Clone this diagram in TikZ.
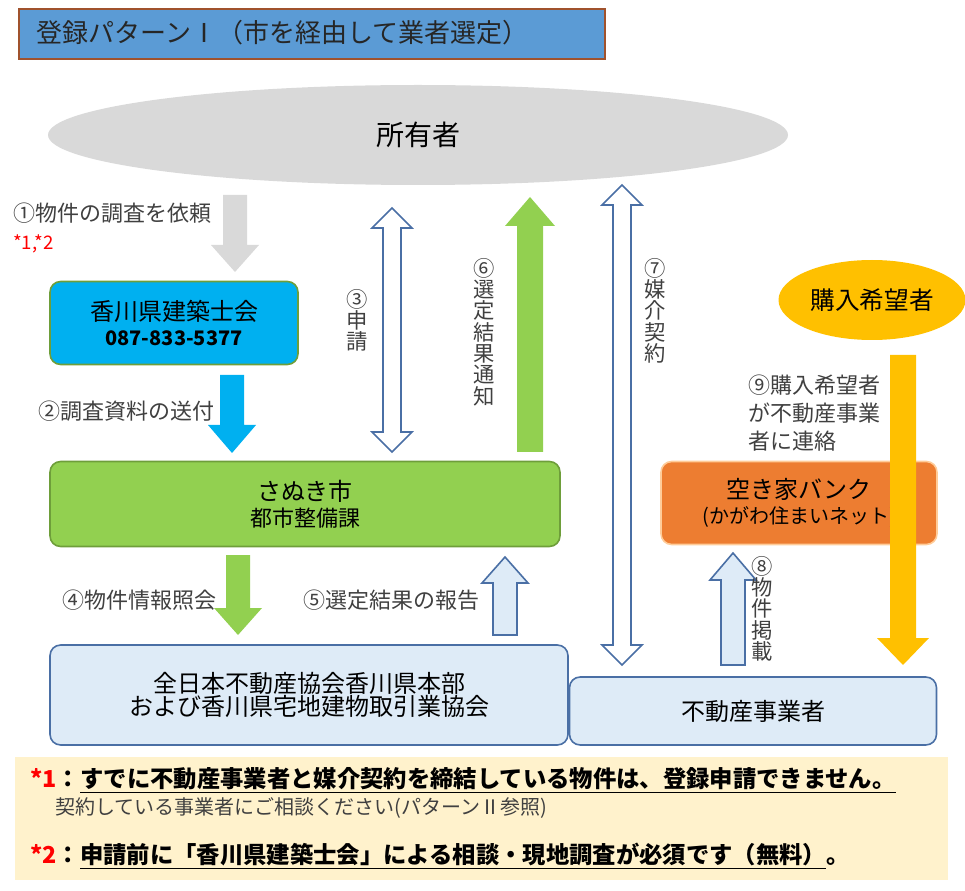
\documentclass[tikz,border=0pt]{standalone}
\usepackage{fontspec}
\setmainfont{Noto Sans CJK JP}
\usetikzlibrary{shapes.geometric}
\definecolor{tblue}{HTML}{5B9BD5}
\definecolor{tbrd}{HTML}{A0522D}
\definecolor{cyanb}{HTML}{00B0F0}
\definecolor{grn}{HTML}{92D050}
\definecolor{grnd}{HTML}{6E9E3A}
\definecolor{org}{HTML}{ED7D31}
\definecolor{gold}{HTML}{FFC000}
\definecolor{lblue}{HTML}{DEEBF7}
\definecolor{bbrd}{HTML}{4A6FA5}
\definecolor{note}{HTML}{FFF2CC}
\definecolor{gry}{HTML}{D9D9D9}
\newcommand{\barrow}[7]{\draw[#1] (#2-#6,#3) -- (#2+#6,#3) -- (#2+#6,#4) -- (#2+#7,#4) -- (#2,#5) -- (#2-#7,#4) -- (#2-#6,#4) -- cycle;}
\newcommand{\dbarrow}[8]{\draw[#1] (#2,#3) -- (#2+#8,#4) -- (#2+#7,#4) -- (#2+#7,#5) -- (#2+#8,#5) -- (#2,#6) -- (#2-#8,#5) -- (#2-#7,#5) -- (#2-#7,#4) -- (#2-#8,#4) -- cycle;}
\begin{document}
\begin{tikzpicture}[x=0.75pt,y=-0.75pt,
  box/.style={draw,rounded corners=8pt,line width=1.2pt,align=center,inner sep=0},
  lbl/.style={anchor=west,font=\fontsize{16.5}{19}\selectfont,text=black!75,inner sep=0},
  vlbl/.style={anchor=north,align=center,font=\fontsize{16}{16}\selectfont,text=black!75,inner sep=0}]
\useasboundingbox (0,0) rectangle (965,891);
% title
\node[draw=tbrd,fill=tblue,line width=1.5pt,minimum width=586pt*0.75,minimum height=50pt*0.75,anchor=north west,inner sep=0] (title) at (18,8) {};
\node[anchor=west,font=\fontsize{19.5}{21}\selectfont,text=black!85] (titlet) at (32,33) {登録パターンⅠ（市を経由して業者選定）};
% owner
\node[ellipse,fill=gry,minimum width=740*0.75pt,minimum height=100*0.75pt] (own) at (418,135) {\fontsize{21}{22}\selectfont 所有者};
\node[ellipse,fill=gold,minimum width=176*0.75pt,minimum height=80*0.75pt] (buyer) at (872,300) {\fontsize{18.5}{20}\selectfont 購入希望者};
% boxes
\node[box,draw=grnd,fill=cyanb,minimum width=248*0.75pt,minimum height=83*0.75pt] (arch) at (174,323) {\fontsize{18}{22}\selectfont 香川県建築士会\\[5pt]\fontsize{15}{18}\bfseries\selectfont 087-833-5377};
\node[box,draw=grnd,fill=grn,minimum width=510*0.75pt,minimum height=85*0.75pt] (city) at (305,504) {\fontsize{18}{22}\selectfont さぬき市\\[3pt]\fontsize{16.5}{19}\selectfont 都市整備課};
\node[box,draw=orange!40,fill=org,minimum width=276*0.75pt,minimum height=83*0.75pt] (bank) at (799,503) {\fontsize{18}{22}\selectfont 空き家バンク\\[3pt]\fontsize{15}{18}\selectfont (かがわ住まいネット)};
\node[box,draw=bbrd,fill=lblue,minimum width=518*0.75pt,minimum height=100*0.75pt] (assoc) at (309,695) {\fontsize{18}{24}\selectfont 全日本不動産協会香川県本部\\\fontsize{18}{24}\selectfont および香川県宅地建物取引業協会};
\node[box,draw=bbrd,fill=lblue,minimum width=367*0.75pt,minimum height=68*0.75pt] (agent) at (753,711) {\fontsize{18}{20}\selectfont 不動産事業者};
% arrows
\barrow{fill=gry,draw=none}{235}{195}{245}{272}{12}{24}
\barrow{fill=cyanb,draw=none}{232}{375}{425}{453}{12}{24}
\barrow{fill=grn,draw=none}{238}{555}{608}{635}{12}{24}
\barrow{fill=grn,draw=none}{530}{452}{226}{197}{13}{25}
\barrow{fill=gold,draw=none}{903}{355}{638}{665}{13}{26}
\barrow{fill=lblue,draw=bbrd,line width=1.2pt}{505}{635}{583}{557}{12}{23}
\barrow{fill=lblue,draw=bbrd,line width=1.2pt}{733}{665}{580}{553}{12}{23}
\dbarrow{fill=white,draw=bbrd,line width=1.2pt}{392}{208}{228}{432}{452}{9}{20}
\dbarrow{fill=white,draw=bbrd,line width=1.2pt}{622}{185}{205}{645}{665}{9}{20}
% labels
\node[lbl] (l1) at (13,213) {①物件の調査を依頼};
\node[lbl,text=red,font=\fontsize{14}{16}\selectfont] (l1b) at (13,244) {*1,*2};
\node[lbl] (l2) at (38,411) {②調査資料の送付};
\node[vlbl] (l3) at (357,289) {③\\申\\請};
\node[vlbl] (l6) at (484,258) {⑥\\選\\定\\結\\果\\通\\知};
\node[vlbl] (l7) at (655,258) {⑦\\媒\\介\\契\\約};
\node[lbl,align=left,font=\fontsize{16.5}{21}\selectfont] (l9) at (748,413) {⑨購入希望者\\が不動産事業\\者に連絡};
\node[lbl] (l4) at (62,600) {④物件情報照会};
\node[lbl] (l5) at (303,600) {⑤選定結果の報告};
\node[vlbl] (l8) at (762,556) {⑧\\物\\件\\掲\\載};
% notes
\fill[note] (15,757) rectangle (948,880);
\node[lbl,text=black,font=\fontsize{17.5}{19}\bfseries\selectfont] (n1) at (30,780) {\textcolor{red}{*1}：\underline{すでに不動産事業者と媒介契約を締結している物件は、登録申請できません。}};
\node[lbl,font=\fontsize{15}{17}\selectfont] (n2) at (55,808) {契約している事業者にご相談ください(パターンⅡ参照)};
\node[lbl,text=black,font=\fontsize{17.5}{19}\bfseries\selectfont] (n3) at (30,856) {\textcolor{red}{*2}：\underline{申請前に「香川県建築士会」による相談・現地調査が必須です（無料）}。};
\end{tikzpicture}
\end{document}
